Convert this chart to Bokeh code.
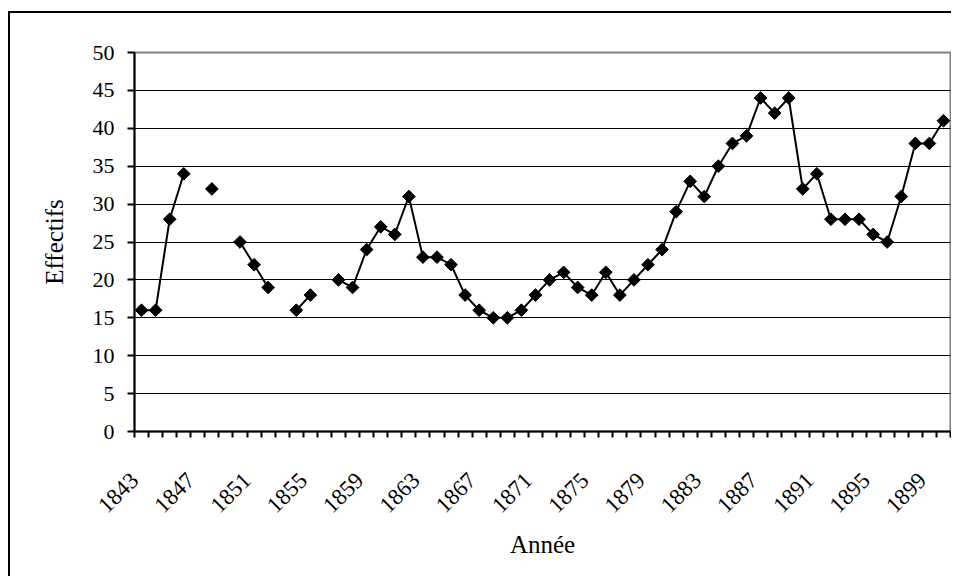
import math
from bokeh.plotting import figure
from bokeh.models import Range1d, FixedTicker, ColumnDataSource
from bokeh.embed import file_html
from bokeh.resources import INLINE

# ---- data ----
annees = list(range(1843, 1901))
effectifs = [16, 16, 28, 34, None, 32, None, 25, 22, 19,
             None, 16, 18, None, 20, 19, 24, 27, 26, 31,
             23, 23, 22, 18, 16, 15, 15, 16, 18, 20,
             21, 19, 18, 21, 18, 20, 22, 24, 29, 33,
             31, 35, 38, 39, 44, 42, 44, 32, 34, 28,
             28, 28, 26, 25, 31, 38, 38, 41]
x_tick_labels = list(range(1843, 1900, 4))
y_ticks = list(range(0, 51, 5))
grid_ticks = list(range(5, 50, 5))

src = ColumnDataSource(dict(
    annee=annees,
    effectifs=[float("nan") if v is None else v for v in effectifs],
))

FONT = "Liberation Serif"

p = figure(width=943, height=565, output_backend="svg", toolbar_location=None,
           x_range=Range1d(1842.5, 1900.5), y_range=Range1d(0, 50),
           min_border_left=124, min_border_right=3, min_border_top=39,
           min_border_bottom=147)
p.styles = {"border-left": "2px solid black", "border-top": "2px solid black",
            "margin-left": "8px", "margin-top": "11px"}

p.line("annee", "effectifs", source=src, line_color="black", line_width=2)
p.scatter("annee", "effectifs", source=src, marker="square", angle=math.pi / 4,
          size=9, fill_color="black", line_color="black")

# axes (Excel-style: category boundaries ticked, labels every 4 years)
xa = p.xaxis[0]
label_pos = [y - 0.5 for y in x_tick_labels]
xa.ticker = FixedTicker(ticks=label_pos,
                        minor_ticks=[y - 0.5 for y in range(1843, 1902)])
xa.major_label_overrides = {pos: str(y) for pos, y in zip(label_pos, x_tick_labels)}
xa.major_tick_line_color = None
xa.major_tick_out = 0
xa.major_tick_in = 0
xa.minor_tick_out = 6
xa.minor_tick_in = 0
xa.minor_tick_line_color = "black"
xa.minor_tick_line_width = 2
xa.axis_line_color = "black"
xa.axis_line_width = 2
xa.major_label_orientation = math.pi / 4
xa.major_label_standoff = 39
xa.major_label_text_font = FONT
xa.major_label_text_font_size = "23px"
xa.major_label_text_color = "black"
xa.axis_label = "Année"
xa.axis_label_text_font = FONT
xa.axis_label_text_font_size = "25px"
xa.axis_label_text_font_style = "normal"
xa.axis_label_text_color = "black"
xa.axis_label_standoff = 8

ya = p.yaxis[0]
ya.ticker = FixedTicker(ticks=y_ticks)
ya.minor_tick_line_color = None
ya.major_tick_out = 7
ya.major_tick_in = 0
ya.major_tick_line_width = 2
ya.major_tick_line_color = "black"
ya.axis_line_color = "black"
ya.axis_line_width = 2
ya.major_label_standoff = 13
ya.major_label_text_font = FONT
ya.major_label_text_font_size = "22px"
ya.major_label_text_color = "black"
ya.axis_label = "Effectifs"
ya.axis_label_text_font = FONT
ya.axis_label_text_font_size = "25px"
ya.axis_label_text_font_style = "normal"
ya.axis_label_text_color = "black"
ya.axis_label_standoff = 22

p.xgrid.visible = False
p.ygrid.ticker = FixedTicker(ticks=grid_ticks)
p.ygrid.grid_line_color = "black"
p.ygrid.grid_line_width = 1

p.outline_line_color = "#808080"
p.outline_line_width = 2
p.background_fill_color = "white"
p.border_fill_color = "white"

open("out.html", "w").write(file_html(p, INLINE))
